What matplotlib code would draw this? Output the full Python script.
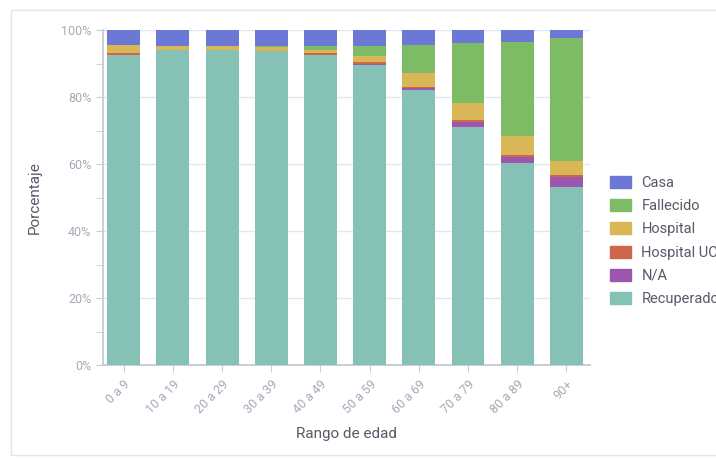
import matplotlib.pyplot as plt
from matplotlib.patches import Patch, Rectangle
import numpy as np

plt.rcParams['font.family'] = ['Roboto', 'DejaVu Sans']

# Rango de edad
grupos = ["0 a 9", "10 a 19", "20 a 29", "30 a 39", "40 a 49",
          "50 a 59", "60 a 69", "70 a 79", "80 a 89", "90+"]

# porcentajes por estado (de abajo hacia arriba en la pila)
recuperado = [92.5, 94.0, 94.0, 93.7, 92.5, 89.5, 82.1, 71.1, 60.2, 53.0]
na = [0.0, 0.0, 0.0, 0.0, 0.1, 0.3, 0.5, 1.5, 2.0, 3.0]
hospital_uci = [0.5, 0.1, 0.1, 0.1, 0.4, 0.5, 0.5, 0.5, 0.5, 0.7]
hospital = [2.5, 1.0, 1.0, 1.2, 1.0, 2.0, 4.0, 5.0, 5.7, 4.2]
fallecido = [0.0, 0.0, 0.0, 0.1, 1.2, 2.9, 8.4, 17.9, 28.1, 36.6]
casa = [4.5, 4.9, 4.9, 4.9, 4.8, 4.8, 4.5, 4.0, 3.5, 2.5]

series = [
    ("Recuperado", recuperado, "#85c2b5"),
    ("N/A", na, "#9b57b0"),
    ("Hospital UCI", hospital_uci, "#cf6549"),
    ("Hospital", hospital, "#d9b757"),
    ("Fallecido", fallecido, "#7dbb64"),
    ("Casa", casa, "#6c78d5"),
]

fig = plt.figure(figsize=(7.16, 4.58), dpi=100)
# marco exterior gris claro
fig.patches.append(Rectangle((11 / 716, 3 / 458), 720 / 716, 445 / 458,
                             transform=fig.transFigure, fill=False,
                             edgecolor="#e2e5ea", linewidth=1.0))

ax = fig.add_axes([103 / 716, 1 - 365 / 458, 487 / 716, 335 / 458])

x = np.arange(len(grupos))
base = np.zeros(len(grupos))
for nombre, valores, color in series:
    ax.bar(x, valores, width=0.67, bottom=base, color=color, label=nombre, zorder=3)
    base += np.array(valores)

ax.set_xlim(-0.42, 9.48)
ax.set_ylim(0, 100)

# grilla y ejes
ax.set_yticks(np.arange(0, 101, 20))
ax.set_yticks(np.arange(10, 100, 20), minor=True)
ax.set_yticklabels([f"{v}%" for v in range(0, 101, 20)])
ax.yaxis.grid(True, color="#e3e6ec", linewidth=1.0, zorder=0)
ax.set_xticks(x)
ax.set_xticklabels(grupos, rotation=45, ha="right", rotation_mode="anchor")

for s in ["top", "right"]:
    ax.spines[s].set_visible(False)
ax.spines["left"].set_color("#c5cad4")
ax.spines["bottom"].set_color("#c5cad4")
ax.spines["left"].set_linewidth(1.3)
ax.spines["bottom"].set_linewidth(1.3)

ax.tick_params(axis="both", which="both", colors="#c5cad4", labelcolor="#a3aab8",
               labelsize=9, length=5)
ax.tick_params(axis="x", pad=4)

ax.set_ylabel("Porcentaje", fontsize=11, color="#555a66", labelpad=14)
ax.set_xlabel("Rango de edad", fontsize=11, color="#555a66", labelpad=8)

# leyenda a la derecha (Casa arriba)
handles = [Patch(facecolor=c, edgecolor=c, label=n) for n, _, c in reversed(series)]
leg = fig.legend(handles=handles, loc="upper left",
                 bbox_to_anchor=(597 / 716, 1 - 163 / 458), frameon=False,
                 fontsize=10.5, handlelength=1.4, handleheight=0.9,
                 labelspacing=0.62, handletextpad=0.75)
for t in leg.get_texts():
    t.set_color("#555a66")

fig.savefig("out.png", dpi=100)
